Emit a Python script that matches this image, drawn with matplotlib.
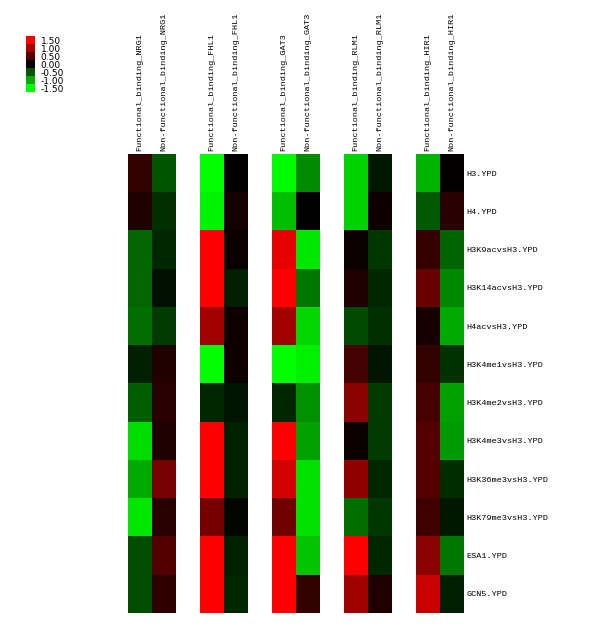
import numpy as np
import matplotlib
matplotlib.use('Agg')
import matplotlib.pyplot as plt
from matplotlib.colors import LinearSegmentedColormap

genes = ['NRG1', 'FHL1', 'GAT3', 'RLM1', 'HIR1']
rows = ['H3.YPD', 'H4.YPD', 'H3K9acvsH3.YPD', 'H3K14acvsH3.YPD', 'H4acvsH3.YPD',
        'H3K4me1vsH3.YPD', 'H3K4me2vsH3.YPD', 'H3K4me3vsH3.YPD', 'H3K36me3vsH3.YPD',
        'H3K79me3vsH3.YPD', 'ESA1.YPD', 'GCN5.YPD']

# values, one list per column (functional / non-functional)
nrg1_func = [0.30, 0.18, -0.60, -0.60, -0.65, -0.18, -0.55, -1.30, -1.00, -1.35, -0.45, -0.45]
nrg1_non = [-0.50, -0.27, -0.24, -0.10, -0.35, 0.20, 0.24, 0.18, 0.70, 0.24, 0.47, 0.27]
fhl1_func = [-1.50, -1.42, 1.50, 1.50, 0.95, -1.50, -0.24, 1.50, 1.50, 0.68, 1.50, 1.50]
fhl1_non = [0.02, 0.12, 0.06, -0.18, 0.09, 0.09, -0.12, -0.20, -0.20, -0.03, -0.20, -0.24]
gat3_func = [-1.47, -1.12, 1.35, 1.50, 0.97, -1.50, -0.24, 1.50, 1.24, 0.65, 1.50, 1.50]
gat3_non = [-0.82, 0.00, -1.35, -0.70, -1.26, -1.41, -0.85, -0.94, -1.32, -1.32, -1.15, 0.30]
rlm1_func = [-1.24, -1.24, 0.06, 0.18, -0.44, 0.41, 0.82, 0.06, 0.85, -0.65, 1.50, 0.94]
rlm1_non = [-0.15, 0.09, -0.32, -0.24, -0.27, -0.12, -0.35, -0.35, -0.24, -0.32, -0.24, 0.18]
hir1_func = [-1.06, -0.53, 0.32, 0.62, 0.15, 0.30, 0.41, 0.50, 0.50, 0.38, 0.82, 1.18]
hir1_non = [0.03, 0.24, -0.59, -0.80, -1.00, -0.30, -0.94, -0.91, -0.26, -0.15, -0.70, -0.18]

legend_vals = [1.50, 1.00, 0.50, 0.00, -0.50, -1.00, -1.50]

blocks = [(nrg1_func, nrg1_non), (fhl1_func, fhl1_non), (gat3_func, gat3_non),
          (rlm1_func, rlm1_non), (hir1_func, hir1_non)]

cmap = LinearSegmentedColormap.from_list('gbr', ['#00ff00', '#000000', '#ff0000'])
W, H = 600, 637
fig = plt.figure(figsize=(6, 6.37), dpi=100)
mono = 'Liberation Mono'

top, bottom = 154, 613
for i, (g, (f, n)) in enumerate(zip(genes, blocks)):
    x0 = 128 + 72 * i
    ax = fig.add_axes([x0 / W, 1 - bottom / H, 48 / W, (bottom - top) / H])
    data = np.array([f, n]).T
    ax.imshow(data, cmap=cmap, vmin=-1.5, vmax=1.5, aspect='auto', interpolation='nearest')
    ax.set_xticks([0, 1])
    ax.set_xticklabels(['Functional_binding_' + g, 'Non-functional_binding_' + g],
                       rotation=90, family=mono, fontsize=6.1)
    ax.xaxis.tick_top()
    ax.tick_params(axis='x', length=0, pad=2)
    if i == len(genes) - 1:
        ax.set_yticks(range(len(rows)))
        ax.set_yticklabels(rows, family=mono, fontsize=6.1)
        ax.yaxis.tick_right()
        ax.tick_params(axis='y', length=0, pad=2)
    else:
        ax.set_yticks([])
    for s in ax.spines.values():
        s.set_visible(False)

# legend
lax = fig.add_axes([26 / W, 1 - 92 / H, 9 / W, 56 / H])
lax.imshow(np.array(legend_vals).reshape(-1, 1), cmap=cmap, vmin=-1.5, vmax=1.5,
           aspect='auto', interpolation='nearest')
lax.set_xticks([])
lax.set_yticks(range(len(legend_vals)))
lax.set_yticklabels(['%.2f' % v for v in legend_vals], fontsize=6.5)
lax.yaxis.tick_right()
lax.tick_params(axis='y', length=0, pad=4)
for s in lax.spines.values():
    s.set_visible(False)

fig.savefig('out.png', dpi=100)
